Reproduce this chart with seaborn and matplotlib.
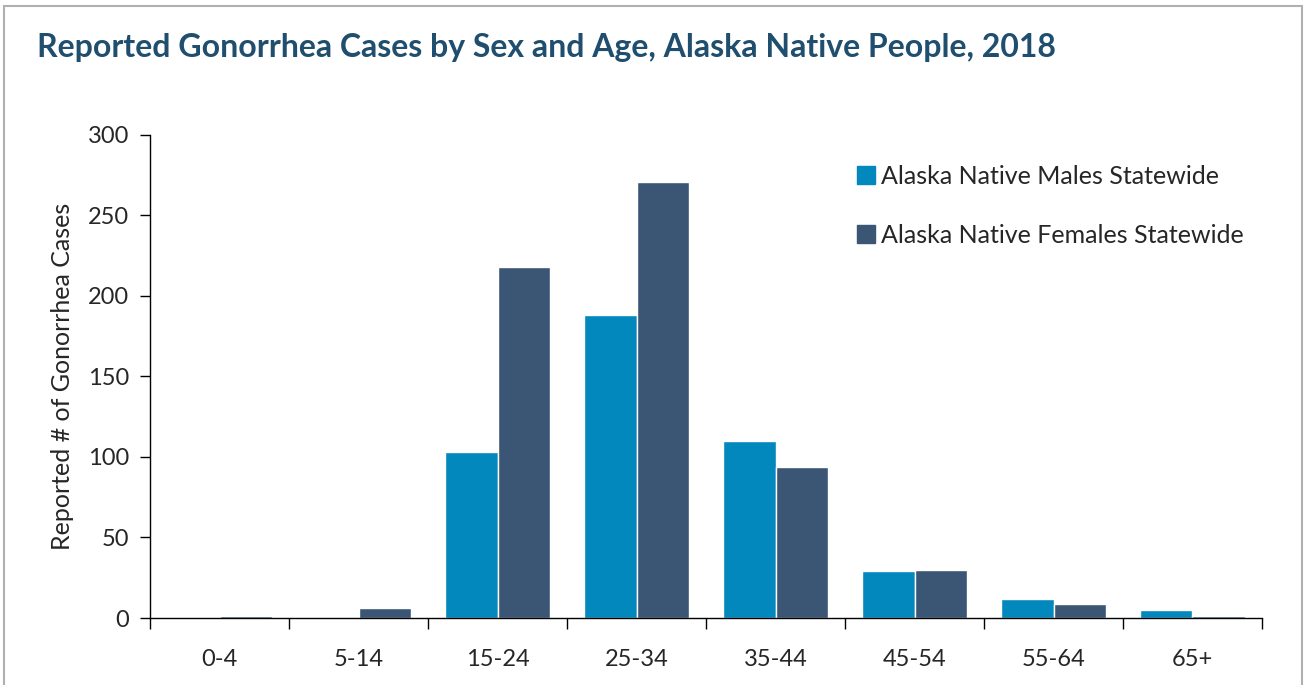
import pandas as pd
import numpy as np
import matplotlib.pyplot as plt
import seaborn as sns
from matplotlib.patches import Rectangle
from matplotlib.lines import Line2D

ages = ['0-4', '5-14', '15-24', '25-34', '35-44', '45-54', '55-64', '65+']
males = [0, 0, 103, 188, 110, 29, 12, 5]
females = [1, 6, 218, 271, 94, 30, 9, 1]
series = ['Alaska Native Males Statewide', 'Alaska Native Females Statewide']
colors = ['#0288bd', '#3b5575']

df = pd.DataFrame({
    'age': ages * 2,
    'cases': males + females,
    'sex': [series[0]] * len(ages) + [series[1]] * len(ages),
})

sns.set_style('white')
plt.rcParams['font.family'] = ['Lato', 'DejaVu Sans']

fig = plt.figure(figsize=(13.06, 6.85), dpi=100)
ax = fig.add_axes([0.1149, 0.0978, 0.8514, 0.7052])

sns.barplot(data=df, x='age', y='cases', hue='sex', order=ages, hue_order=series,
            palette=colors, width=0.76, saturation=1, ax=ax, legend=False)

ax.set_ylim(0, 300)
ax.set_xlim(-0.5, len(ages) - 0.5)
ax.set_yticks(range(0, 301, 50))
ax.set_xticks(np.arange(-0.5, len(ages), 1), minor=True)
ax.tick_params(axis='x', which='major', length=0, pad=22, labelsize=17)
ax.tick_params(axis='x', which='minor', length=8, width=1, color='black', direction='out', bottom=True)
ax.tick_params(axis='y', length=7, width=1, color='black', direction='out', left=True, labelsize=17, pad=8)
ax.set_xlabel('')
ax.set_ylabel('Reported # of Gonorrhea Cases', fontsize=18, labelpad=10)
for s in ['top', 'right']:
    ax.spines[s].set_visible(False)
for s in ['left', 'bottom']:
    ax.spines[s].set_color('black')
    ax.spines[s].set_linewidth(1)

handles = [Line2D([], [], marker='s', linestyle='', markersize=13, color=c) for c in colors]
ax.legend(handles, series, loc='upper left', bbox_to_anchor=(0.61, 0.985), frameon=False,
          fontsize=18, labelspacing=1.45, handletextpad=0.0, handlelength=1.2)

fig.text(0.028, 0.93, 'Reported Gonorrhea Cases by Sex and Age, Alaska Native People, 2018',
         fontsize=23, fontweight='bold', color='#1f4e6e', ha='left', va='center')

fig.patches.append(Rectangle((0.003, -0.01), 0.994, 1.001, transform=fig.transFigure,
                             fill=False, edgecolor='#b0b0b0', linewidth=1.5))

fig.savefig('out.png', dpi=100)
